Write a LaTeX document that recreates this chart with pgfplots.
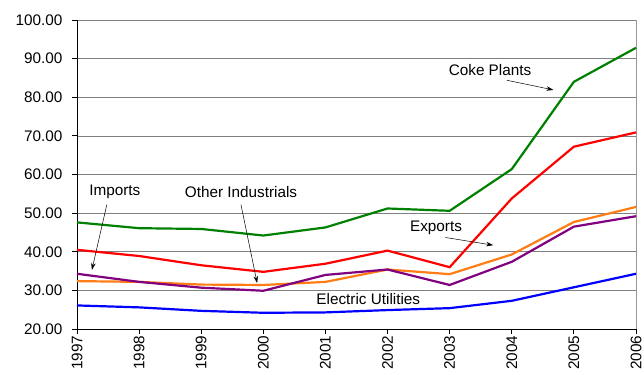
\documentclass[border=0pt]{standalone}
\usepackage{pgfplots}
\pgfplotsset{compat=1.18}
\usepackage{fontspec}
\setmainfont{Liberation Sans}
\usetikzlibrary{arrows.meta}
\definecolor{cgreen}{RGB}{0,128,0}
\definecolor{cred}{RGB}{255,0,0}
\definecolor{corange}{RGB}{255,125,20}
\definecolor{cpurple}{RGB}{128,0,128}
\definecolor{cblue}{RGB}{0,0,255}
\begin{document}
\begin{tikzpicture}[font=\fontsize{15.3bp}{18bp}\selectfont]
\begin{axis}[
  scale only axis,
  width=559bp, height=309bp,
  xmin=1997, xmax=2006, ymin=20, ymax=100,
  axis lines*=left,
  axis line style={black, line width=0.8pt},
  xtick={1997,1998,1999,2000,2001,2002,2003,2004,2005,2006},
  xticklabels={1997,1998,1999,2000,2001,2002,2003,2004,2005,2006},
  ytick={20,30,40,50,60,70,80,90,100},
  tick align=outside,
  major tick length=5bp,
  tick style={black, line width=0.8pt},
  /pgf/number format/assume math mode=true,
  yticklabel style={/pgf/number format/.cd, fixed, fixed zerofill, precision=2},
  xticklabel style={rotate=90, anchor=east, inner sep=1.5bp},
  yticklabel shift=6bp,
  xticklabel shift=0bp,
  ymajorgrids,
  grid style={gray, line width=0.6pt},
  clip=false,
]
\draw[gray!80, line width=0.8pt] (rel axis cs:1,0) -- (rel axis cs:1,1);
\coordinate (sw) at (rel axis cs:0,0);
\coordinate (ne) at (rel axis cs:1,1);
% Coke Plants
\addplot[cgreen, line width=2.2bp] coordinates {(1997,47.6) (1998,46.1) (1999,45.9) (2000,44.2) (2001,46.3) (2002,51.2) (2003,50.6) (2004,61.4) (2005,84.0) (2006,92.8)};
% Exports
\addplot[cred, line width=2.2bp] coordinates {(1997,40.5) (1998,38.9) (1999,36.5) (2000,34.8) (2001,36.9) (2002,40.3) (2003,36.0) (2004,53.8) (2005,67.2) (2006,70.9)};
% Other Industrials
\addplot[corange, line width=2.2bp] coordinates {(1997,32.4) (1998,32.2) (1999,31.5) (2000,31.4) (2001,32.2) (2002,35.4) (2003,34.2) (2004,39.3) (2005,47.7) (2006,51.6)};
% Imports
\addplot[cpurple, line width=2.2bp] coordinates {(1997,34.3) (1998,32.2) (1999,30.7) (2000,29.9) (2001,34.0) (2002,35.4) (2003,31.4) (2004,37.4) (2005,46.5) (2006,49.2)};
% Electric Utilities
\addplot[cblue, line width=2.2bp] coordinates {(1997,26.1) (1998,25.6) (1999,24.7) (2000,24.2) (2001,24.3) (2002,24.9) (2003,25.4) (2004,27.3) (2005,30.8) (2006,34.3)};

\node at (axis cs:2003.65,87.1) {Coke Plants};
\draw[-{Stealth[length=7bp,width=4.5bp]}, line width=0.5pt] (axis cs:2003.92,84.4) -- (axis cs:2004.67,81.9);
\node at (axis cs:2002.78,46.1) {Exports};
\draw[-{Stealth[length=7bp,width=4.5bp]}, line width=0.5pt] (axis cs:2002.93,43.7) -- (axis cs:2003.70,41.7);
\node at (axis cs:1997.61,55.5) {Imports};
\draw[-{Stealth[length=7bp,width=4.5bp]}, line width=0.5pt] (axis cs:1997.48,52.2) -- (axis cs:1997.24,35.3);
\node at (axis cs:1999.64,55.5) {Other Industrials};
\draw[-{Stealth[length=7bp,width=4.5bp]}, line width=0.5pt] (axis cs:1999.64,52.2) -- (axis cs:1999.90,31.9);
\node at (axis cs:2001.69,27.8) {Electric Utilities};
\end{axis}
\pgfresetboundingbox
\path ([shift={(-77bp,-45bp)}]sw) rectangle ([shift={(8bp,20bp)}]ne);
\end{tikzpicture}
\end{document}
